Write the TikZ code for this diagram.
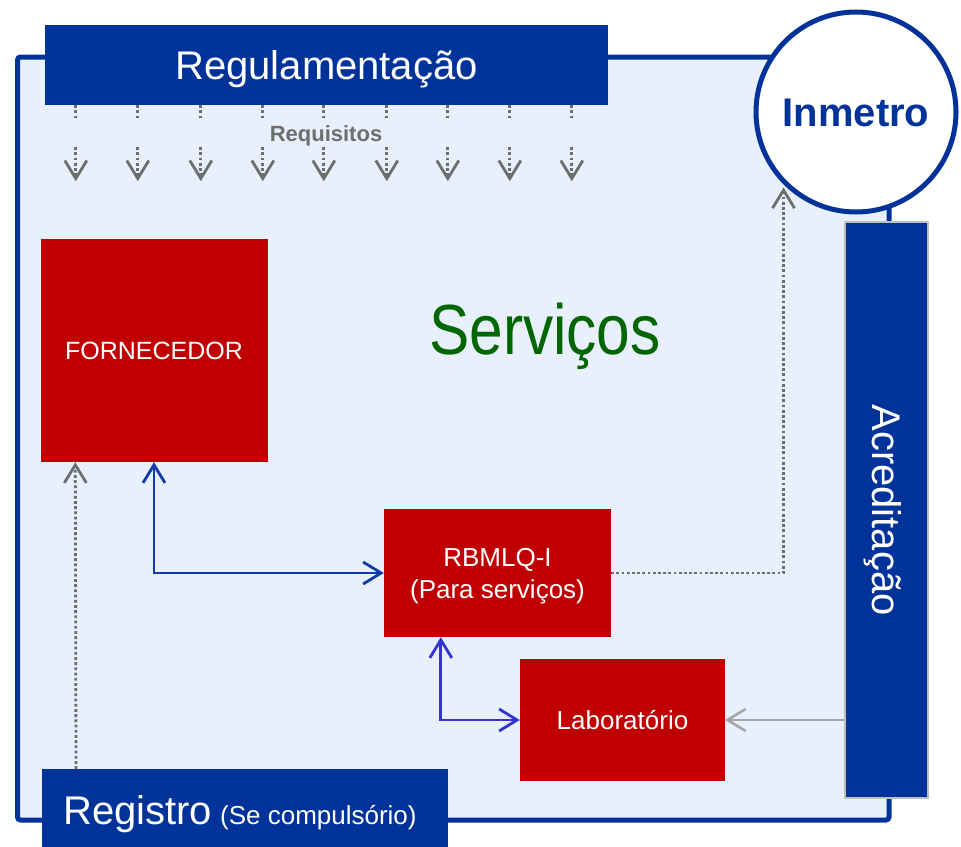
\documentclass[tikz,border=0pt]{standalone}
\usepackage{fontspec}
\setmainfont{Liberation Sans}
\usetikzlibrary{arrows.meta,calc}
\definecolor{navy}{RGB}{0,51,153}
\definecolor{framefill}{RGB}{232,240,253}
\definecolor{boxred}{RGB}{192,0,0}
\definecolor{servgreen}{RGB}{0,102,0}
\definecolor{arrgray}{RGB}{110,110,110}
\definecolor{lightarr}{RGB}{165,165,165}
\definecolor{darkblue}{RGB}{16,60,168}
\definecolor{brightblue}{RGB}{52,52,208}
\tikzset{chev/.tip={Straight Barb[length=18pt,width=22pt]}}
\begin{document}
\begin{tikzpicture}[x=1pt,y=-1pt,
  navybox/.style={fill=navy, draw=none, text=white, inner sep=0pt},
  redbox/.style={fill=boxred, draw=none, text=white, inner sep=0pt},
  dotline/.style={draw=arrgray, line width=2.8pt, dash pattern=on 2.8pt off 2.4pt},
  bluearr/.style={line width=2.8pt},
  bigtext/.style={font=\fontsize{40}{48}\selectfont, text height=28.6pt, text depth=0pt},
  midtext/.style={font=\fontsize{26}{32}\selectfont, text height=18.6pt, text depth=0pt}
]
\useasboundingbox (0,0) rectangle (961,846);
% frame
\draw[line width=5pt, draw=navy, fill=framefill, rounded corners=3pt] (17.5,57) rectangle (889,820);

% Regulamentacao
\node[navybox, bigtext, minimum width=563pt, minimum height=80pt] (reg) at (326.5,65) {Regulamentação};
\node[text=arrgray, font=\bfseries\fontsize{22}{26}\selectfont, anchor=base, inner sep=0pt] (req) at (326,141) {Requisitos};
\foreach \dx in {31,93,156,218,279,342,403,465,527}{
  \draw[dotline] ($(reg.south west)+(\dx,0)$) -- ++(0,15);
  \draw[dotline, -chev] ($(reg.south west)+(\dx,42)$) -- ++(0,34);
}

% Inmetro
\node[circle, draw=navy, line width=5pt, fill=white, minimum size=200pt, inner sep=0pt, text=navy,
      font=\bfseries\fontsize{40}{48}\selectfont, text height=28.6pt, text depth=0pt] (inm) at (856,112) {Inmetro};

% Acreditacao
\node[navybox, draw=black!25, line width=2pt, bigtext, rotate=-90, minimum width=576pt, minimum height=83pt] (acr) at (886.5,510) {Acreditação};

% Servicos
\node[text=servgreen, font=\fontsize{71}{80}\selectfont, anchor=base, inner sep=0pt] (serv) at (545,354) {\scalebox{0.85}[1]{Serviços}};

% red boxes
\node[redbox, midtext, font=\fontsize{25}{30}\selectfont, text height=18pt, minimum width=227pt, minimum height=223pt] (forn) at (154,350.5) {FORNECEDOR};
\node[redbox, font=\fontsize{26}{32}\selectfont, align=center, text depth=0pt, minimum width=227pt, minimum height=128pt] (rbm) at (497.5,573) {RBMLQ-I\\(Para serviços)};
\node[redbox, midtext, minimum width=205pt, minimum height=122pt] (lab) at (622.5,720) {Laboratório};

% Registro
\node[navybox, anchor=north west, minimum width=406pt, minimum height=81pt, inner xsep=21pt,
      text height=29pt, text depth=0pt] (rgs) at (42,769)
  {\makebox[364pt][l]{{\fontsize{40}{48}\selectfont Registro}\hspace{8pt}{\fontsize{26}{30}\selectfont (Se compulsório)}}};

% connectors
\draw[bluearr, draw=darkblue, chev-chev] (forn.south) |- (rbm.west);
\draw[bluearr, draw=brightblue, chev-chev] ($(rbm.south west)+(57,0)$) |- (lab.west);
\draw[dotline, -chev, shorten >=3pt] (rbm.east) -| (inm.south west);
\draw[line width=2.5pt, draw=lightarr, -chev] (acr.south |- lab.east) -- (lab.east);
\draw[dotline, -chev] ($(rgs.north west)+(34,0)$) -- ($(forn.south west)+(35,0)$);
\end{tikzpicture}
\end{document}
